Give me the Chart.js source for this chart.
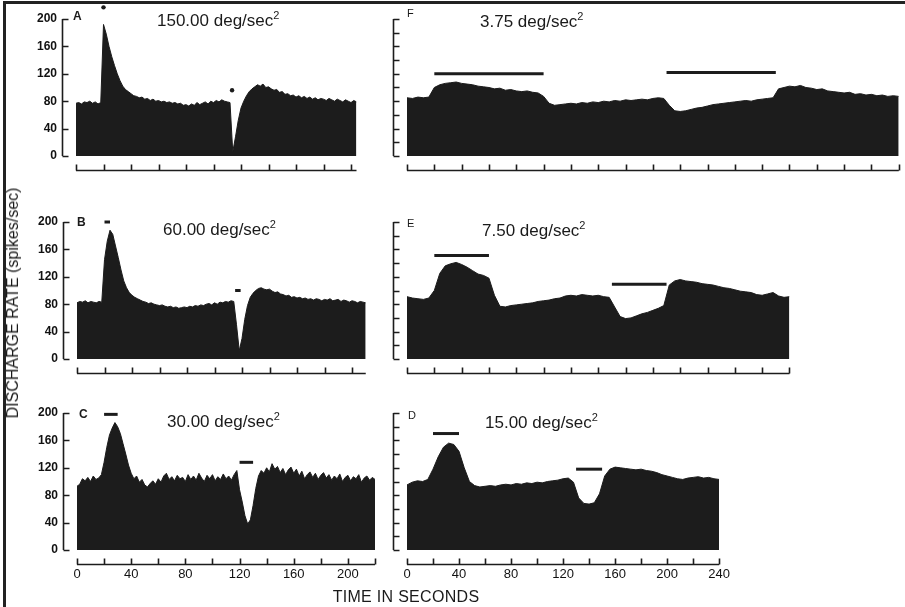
<!DOCTYPE html>
<html>
<head>
<meta charset="utf-8">
<script src="https://cdn.jsdelivr.net/npm/chart.js@4.4.1/dist/chart.umd.min.js"></script>
<style>
  body { margin: 0; width: 905px; height: 607px; overflow: hidden; position: relative; background: #fff;
         font-family: "Liberation Sans", Arial, sans-serif; color: #1a1a1a; }
  canvas { position: absolute; }
  .txt { position: absolute; white-space: nowrap; line-height: 20px; }
  .title { font-size: 17px; }
  .title sup { font-size: 11px; vertical-align: 7px; line-height: 0; }
  #frame { position: absolute; left: 3px; top: 1px; width: 910px; height: 620px;
           border-left: 3px solid #222; border-top: 3px solid #222; }
</style>
</head>
<body>
<div id="frame"></div>
<script>
// discharge rate (spikes/sec), one value per bin, bins start at t = 0
const aBin = 2;
const aRate = [
  77, 78, 76, 79, 78, 80, 77, 79, 76, 78,
  192, 178, 160, 145, 132, 120, 110, 102, 97, 94,
  91, 88, 87, 85, 86, 83, 84, 81, 83, 80,
  81, 79, 80, 78, 79, 77, 78, 76, 77, 74,
  75, 73, 76, 74, 78, 75, 77, 79, 76, 80,
  78, 81, 79, 82, 80, 79, 78, 6, 28, 52,
  70, 80, 88, 94, 98, 101, 104, 102, 105, 100,
  101, 98, 96, 97, 93, 94, 90, 91, 88, 89,
  86, 88, 85, 87, 84, 86, 83, 85, 82, 84,
  83, 81, 84, 82, 80, 83, 81, 79, 82, 80,
  78, 81, 79
];
const bBin = 2;
const bRate = [
  82, 84, 83, 85, 82, 84, 83, 82, 84, 83,
  145, 172, 188, 182, 165, 148, 130, 114, 104, 97,
  93, 90, 88, 86, 84, 83, 81, 82, 80, 79,
  78, 79, 77, 76, 77, 75, 76, 74, 75, 76,
  75, 77, 76, 78, 77, 79, 78, 80, 81, 79,
  82, 80, 83, 82, 84, 83, 85, 84, 50, 12,
  30, 58, 78, 90, 96, 100, 103, 104, 102, 101,
  102, 99, 97, 98, 95, 94, 92, 93, 90, 91,
  89, 90, 88, 89, 87, 88, 86, 88, 87, 85,
  87, 86, 88, 85, 86, 87, 84, 86, 85, 83,
  85, 84, 82, 84, 83, 82
];
const cBin = 2;
const cRate = [
  93, 96, 104, 101, 106, 100, 108, 103, 105, 110,
  128, 150, 168, 178, 186, 180, 170, 155, 140, 124,
  112, 104, 108, 99, 103, 95, 92, 97, 101, 96,
  104, 99, 108, 112, 103, 107, 101, 109, 104, 106,
  100, 110, 103, 108, 102, 112, 105, 100, 109, 104,
  110, 101, 107, 103, 111, 104, 108, 102, 110, 116,
  88, 70, 50, 38, 44, 65, 90, 108, 116, 112,
  120, 114, 126, 118, 122, 113, 119, 110, 117, 121,
  112, 118, 108, 115, 104, 110, 114, 106, 112, 103,
  109, 113, 105, 110, 102, 108, 104, 111, 100, 106,
  109, 101, 107, 104, 110, 99, 105, 108, 102, 106, 103
];
const dBin = 4;
const dRate = [
  95, 99, 101, 100, 103, 118, 136, 150, 156, 154,
  144, 120, 100, 94, 92, 93, 94, 93, 95, 96,
  95, 97, 96, 98, 97, 99, 98, 100, 101, 102,
  104, 105, 99, 76, 68, 67, 69, 82, 108, 118,
  121, 120, 119, 118, 117, 118, 116, 115, 113, 110,
  108, 106, 104, 103, 105, 106, 107, 105, 106, 104, 103
];
const eBin = 4;
const eRate = [
  91, 89, 88, 87, 89, 100, 125, 136, 139, 141,
  138, 134, 129, 124, 122, 118, 93, 77, 76, 78,
  79, 80, 81, 82, 84, 85, 86, 88, 89, 92,
  93, 92, 94, 93, 92, 93, 91, 90, 76, 62,
  59, 60, 63, 66, 68, 71, 74, 78, 108, 114,
  116, 114, 113, 112, 110, 109, 108, 106, 104, 103,
  101, 99, 98, 97, 94, 93, 95, 97, 92, 90, 91
];
const fBin = 4;
const fRate = [
  85, 84, 86, 85, 86, 100, 104, 106, 107, 108,
  106, 105, 104, 102, 101, 100, 98, 99, 96, 97,
  95, 94, 95, 93, 92, 87, 77, 74, 75, 76,
  77, 76, 78, 77, 79, 78, 80, 79, 81, 80,
  82, 81, 82, 83, 82, 84, 85, 84, 74, 66,
  65, 66, 68, 70, 71, 73, 75, 76, 77, 78,
  79, 80, 81, 80, 82, 83, 84, 85, 98, 100,
  102, 101, 103, 100, 99, 97, 98, 95, 94, 93,
  92, 93, 90, 91, 89, 90, 88, 89, 87, 88, 87
];

// stimulus bars: [start s, end s, level]
const bBars = [[20, 24, 200], [115, 119, 100]];
const cBars = [[20, 30, 198], [120, 130, 128]];
const dBars = [[20, 40, 170], [130, 150, 118]];
const eBars = [[20, 60, 151], [150, 190, 109]];
const fBars = [[20, 100, 120], [190, 270, 122]];
// stimulus dots in A: [t, level]
const aDots = [[20, 217], [113.5, 96]];

const yTickLabels = [0, 40, 80, 120, 160, 200];
const cTickLabels = [0, 40, 80, 120, 160, 200];
const dTickLabels = [0, 40, 80, 120, 160, 200, 240];

const INK = '#1c1c1c';
const FONT = "'Liberation Sans', Arial, sans-serif";
const ROW_TOP = [19, 222, 413];       // pixel row of the 200 tick
const PLOT_H = 137;                   // 0..200 height
const Y_AXIS_TOP = 200, Y_MAX = 220;  // room above the axis for stimulus marks
const Y_W = 60, GAP = 14;

const panels = [
  { letter: 'A', accel: '150.00', rate: aRate, bin: aBin, bars: [], dots: aDots, x0: 76, row: 0, px: 1.375, yLab: true, xLab: null,
    lp: [73, 6], tp: [157, 11], big: true },
  { letter: 'B', accel: '60.00', rate: bRate, bin: bBin, bars: bBars, dots: [], x0: 77, row: 1, px: 1.375, yLab: true, xLab: null,
    lp: [77, 212], tp: [163, 220], big: true },
  { letter: 'C', accel: '30.00', rate: cRate, bin: cBin, bars: cBars, dots: [], x0: 77, row: 2, px: 1.375, yLab: true, xLab: cTickLabels,
    lp: [79, 404], tp: [167, 412], big: true },
  { letter: 'D', accel: '15.00', rate: dRate, bin: dBin, bars: dBars, dots: [], x0: 407, row: 2, px: 1.366, yLab: false, xLab: dTickLabels,
    lp: [408, 405], tp: [485, 413] },
  { letter: 'E', accel: '7.50', rate: eRate, bin: eBin, bars: eBars, dots: [], x0: 407, row: 1, px: 1.366, yLab: false, xLab: null,
    lp: [407, 213], tp: [482, 221] },
  { letter: 'F', accel: '3.75', rate: fRate, bin: fBin, bars: fBars, dots: [], x0: 407, row: 0, px: 1.366, yLab: false, xLab: null,
    lp: [407, 3], tp: [480, 12] }
];

// axis lines drawn off the data, ticks pointing inward, like the figure
const axisMarks = {
  id: 'axisMarks',
  afterDraw(chart) {
    const { ctx, chartArea, scales } = chart;
    const x = scales.x, y = scales.y;
    ctx.save();
    ctx.strokeStyle = INK;
    ctx.lineWidth = 1.6;
    ctx.beginPath();
    const ax = Math.round(chartArea.left - GAP) + 0.5;
    ctx.moveTo(ax, y.getPixelForValue(Y_AXIS_TOP));
    ctx.lineTo(ax, y.getPixelForValue(0));
    y.ticks.filter(t => t.value <= Y_AXIS_TOP).forEach(t => {
      const py = Math.round(y.getPixelForValue(t.value)) + 0.5;
      ctx.moveTo(ax, py);
      ctx.lineTo(ax + 6, py);
    });
    const ay = Math.round(chartArea.bottom + GAP) + 0.5;
    ctx.moveTo(chartArea.left, ay);
    ctx.lineTo(chartArea.right, ay);
    x.ticks.forEach(t => {
      const px = Math.round(x.getPixelForValue(t.value)) + 0.5;
      ctx.moveTo(px, ay);
      ctx.lineTo(px, ay - 6);
    });
    ctx.stroke();
    ctx.restore();
  }
};

function addText(html, left, top, cls, style) {
  const d = document.createElement('div');
  d.className = 'txt ' + (cls || '');
  d.innerHTML = html;
  d.style.left = left + 'px';
  d.style.top = top + 'px';
  if (style) Object.assign(d.style, style);
  document.body.appendChild(d);
}

panels.forEach(p => {
  const tEnd = (p.rate.length - 1) * p.bin;
  const plotW = tEnd * p.px;
  const areaH = PLOT_H * Y_MAX / Y_AXIS_TOP;
  const areaTop = ROW_TOP[p.row] - PLOT_H * (Y_MAX - Y_AXIS_TOP) / Y_AXIS_TOP;
  // keep the top padding larger than the y label padding chart.js reserves
  const cTop = Math.floor(areaTop - 24);
  const padT = areaTop - cTop;
  const W = Math.ceil(Y_W + plotW + 4);
  const H = Math.ceil(padT + areaH + 34);
  const xH = H - padT - areaH;
  const cv = document.createElement('canvas');
  cv.width = W; cv.height = H;
  cv.style.width = W + 'px'; cv.style.height = H + 'px';
  cv.style.left = (p.x0 - Y_W) + 'px';
  cv.style.top = cTop + 'px';
  document.body.appendChild(cv);

  const datasets = [{
    data: p.rate.map((v, i) => ({ x: i * p.bin, y: v })),
    borderColor: INK, borderWidth: 1, backgroundColor: INK,
    fill: 'origin', pointRadius: 0, tension: 0
  }];
  p.bars.forEach(([s, e, lvl]) => datasets.push({
    data: [{ x: s, y: lvl }, { x: e, y: lvl }],
    borderColor: INK, borderWidth: 3, pointRadius: 0, fill: false, clip: false
  }));
  if (p.dots.length) datasets.push({
    data: p.dots.map(([t, lvl]) => ({ x: t, y: lvl })),
    showLine: false, pointRadius: 2.2, pointBackgroundColor: INK, pointBorderWidth: 0, clip: false
  });

  new Chart(cv, {
    type: 'line',
    data: { datasets },
    options: {
      responsive: false, animation: false, events: [], devicePixelRatio: 1,
      layout: { padding: { top: padT, right: W - Y_W - plotW, left: 0, bottom: 0 } },
      plugins: { legend: { display: false }, tooltip: { enabled: false } },
      scales: {
        x: {
          type: 'linear', min: 0, max: tEnd,
          grid: { display: false }, border: { display: false },
          ticks: {
            stepSize: 20, includeBounds: false, autoSkip: false, maxRotation: 0,
            display: !!p.xLab, padding: 9, color: '#111',
            font: { family: FONT, size: 13 },
            callback: v => (p.xLab && p.xLab.includes(v)) ? String(v) : ''
          },
          afterFit: s => { s.height = xH; }
        },
        y: {
          min: 0, max: Y_MAX,
          grid: { display: false }, border: { display: false },
          ticks: {
            stepSize: 20, display: p.yLab, padding: 11, color: '#111',
            font: { family: FONT, size: 12, weight: 'bold' },
            callback: v => yTickLabels.includes(v) ? String(v) : ''
          },
          afterFit: s => { s.width = Y_W; }
        }
      }
    },
    plugins: [axisMarks]
  });

  addText(p.letter, p.lp[0], p.lp[1], '', { fontSize: p.big ? '12px' : '11px', fontWeight: p.big ? 'bold' : 'normal' });
  addText(p.accel + ' deg/sec<sup>2</sup>', p.tp[0], p.tp[1], 'title');
});

addText('DISCHARGE RATE (spikes/sec)', 13, 303, '', { fontSize: '16px', transform: 'translate(-50%, -50%) rotate(-90deg)' });
addText('TIME IN SECONDS', 406, 597, '', { fontSize: '16px', letterSpacing: '0.3px', transform: 'translate(-50%, -50%)' });
</script>
</body>
</html>
